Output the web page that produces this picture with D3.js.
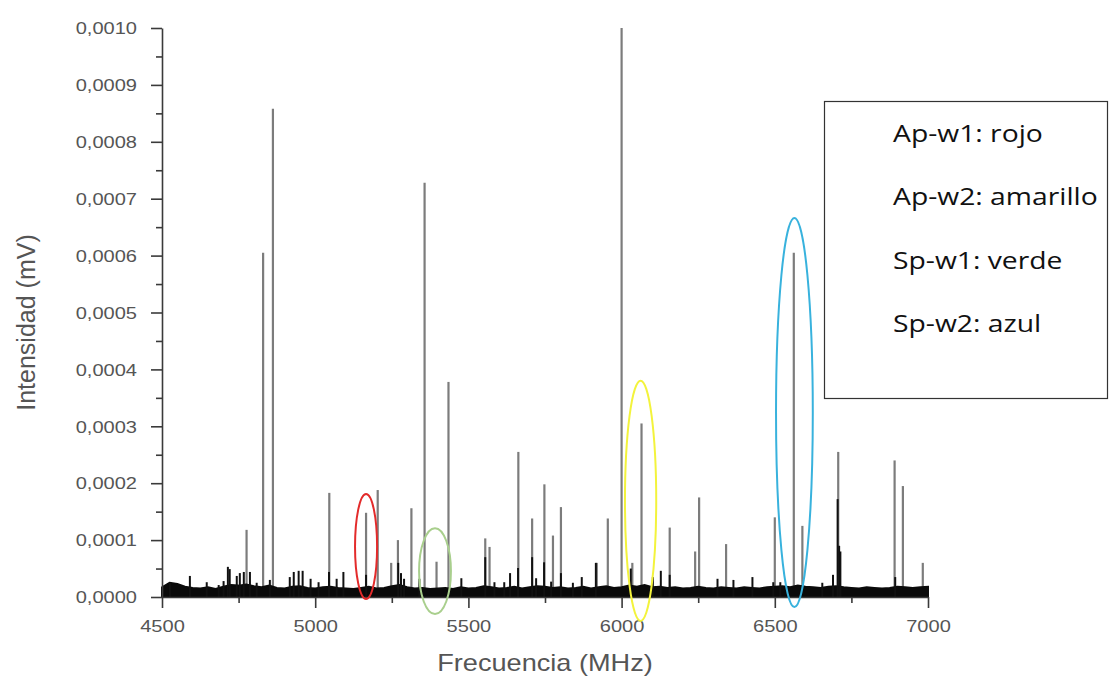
<!DOCTYPE html>
<html>
<head>
<meta charset="utf-8">
<script src="https://cdn.jsdelivr.net/npm/d3@7"></script>
<style>
  body { margin: 0; background: #fff; }
  svg { display: block; }
</style>
</head>
<body>
<svg id="chart" width="1109" height="682"></svg>
<script>
// Strong emission lines (frequency in MHz, intensity in mV)
const peakFreqs = [4776, 4830, 4862, 5046, 5166, 5204, 5248, 5270, 5314, 5357,
                   5396, 5435, 5555, 5569, 5663, 5708, 5748, 5776, 5802, 5919,
                   5955, 6000, 6035, 6065, 6157, 6240, 6253, 6341, 6500, 6562,
                   6590, 6707, 6891, 6918, 6983];
const peakValues = [0.000118, 0.000605, 0.000858, 0.000183, 0.000148, 0.000188, 0.000060, 0.000100, 0.000156, 0.000728,
                    0.000062, 0.000378, 0.000103, 0.000088, 0.000255, 0.000138, 0.000198, 0.000108, 0.000158, 0.000060,
                    0.000138, 0.001000, 0.000060, 0.000305, 0.000122, 0.000080, 0.000175, 0.000093, 0.000140, 0.000605,
                    0.000125, 0.000255, 0.000240, 0.000195, 0.000060];

// Small spikes riding on the noise floor
const spikeFreqs = [4526, 4591, 4646, 4685, 4701, 4715, 4721, 4744, 4754, 4767,
                    4787, 4809, 4852, 4917, 4930, 4946, 4959, 4985, 5011, 5045,
                    5070, 5092, 5166, 5271, 5280, 5290, 5340, 5477, 5555, 5585,
                    5617, 5636, 5662, 5708, 5721, 5747, 5770, 5802, 5841, 5870,
                    5916, 6030, 6102, 6128, 6157, 6313, 6365, 6427, 6495, 6518,
                    6655, 6690, 6705, 6710, 6714, 6893];
const spikeValues = [0.000025, 0.000037, 0.000026, 0.000021, 0.000028, 0.000053, 0.000049, 0.000037, 0.000042, 0.000044,
                     0.000044, 0.000025, 0.000030, 0.000035, 0.000044, 0.000046, 0.000046, 0.000032, 0.000026, 0.000044,
                     0.000032, 0.000044, 0.000039, 0.000060, 0.000042, 0.000032, 0.000032, 0.000033, 0.000070, 0.000026,
                     0.000026, 0.000042, 0.000051, 0.000070, 0.000033, 0.000061, 0.000027, 0.000042, 0.000025, 0.000035,
                     0.000060, 0.000050, 0.000035, 0.000046, 0.000039, 0.000032, 0.000030, 0.000035, 0.000026, 0.000026,
                     0.000025, 0.000039, 0.000172, 0.000090, 0.000080, 0.000035];

// Noise floor level sampled every 25 MHz from 4500 to 7000 MHz
const floorStep = 25;
const floorValues = [0.000017, 0.000025, 0.000023, 0.000018, 0.000016, 0.000015, 0.000017, 0.000014, 0.000018, 0.000021,
                     0.000020, 0.000022, 0.000019, 0.000017, 0.000020, 0.000016, 0.000015, 0.000018, 0.000019, 0.000016,
                     0.000015, 0.000017, 0.000018, 0.000016, 0.000015, 0.000014, 0.000016, 0.000018, 0.000015, 0.000016,
                     0.000019, 0.000021, 0.000017, 0.000015, 0.000016, 0.000014, 0.000015, 0.000016, 0.000014, 0.000017,
                     0.000015, 0.000016, 0.000019, 0.000017, 0.000015, 0.000016, 0.000018, 0.000015, 0.000017, 0.000019,
                     0.000018, 0.000016, 0.000017, 0.000015, 0.000016, 0.000018, 0.000015, 0.000017, 0.000019, 0.000016,
                     0.000017, 0.000020, 0.000018, 0.000021, 0.000017, 0.000018, 0.000016, 0.000017, 0.000015, 0.000016,
                     0.000018, 0.000016, 0.000015, 0.000017, 0.000016, 0.000015, 0.000017, 0.000016, 0.000015, 0.000017,
                     0.000018, 0.000019, 0.000017, 0.000020, 0.000018, 0.000017, 0.000016, 0.000018, 0.000019, 0.000017,
                     0.000016, 0.000015, 0.000017, 0.000016, 0.000015, 0.000016, 0.000018, 0.000017, 0.000016, 0.000017,
                     0.000018];

// Highlighted lines: centre frequency, vertical extent (mV), half width (MHz)
const markNames = ["Ap-w1", "Sp-w1", "Ap-w2", "Sp-w2"];
const markFreqs = [5166, 5391, 6062, 6564];
const markLow = [-0.0000035, -0.00003, -0.000042, -0.0000176];
const markHigh = [0.000181, 0.000121, 0.00038, 0.000666];
const markHalfWidth = [36, 52, 51, 60];
const markColors = ["#e32b2b", "#a9cf8d", "#f3f33c", "#38b2dd"];

// Axis ticks
const xTickValues = [4500, 5000, 5500, 6000, 6500, 7000];
const xTickLabels = ["4500", "5000", "5500", "6000", "6500", "7000"];
const xMinorTicks = [4750, 5250, 5750, 6250, 6750];
const yTickValues = [0, 0.0001, 0.0002, 0.0003, 0.0004, 0.0005, 0.0006, 0.0007, 0.0008, 0.0009, 0.0010];
const yTickLabels = ["0,0000", "0,0001", "0,0002", "0,0003", "0,0004", "0,0005", "0,0006", "0,0007", "0,0008", "0,0009", "0,0010"];
const yMinorTicks = [0.00005, 0.00015, 0.00025, 0.00035, 0.00045, 0.00055, 0.00065, 0.00075, 0.00085, 0.00095];

const legendLines = ["Ap-w1: rojo", "Ap-w2: amarillo", "Sp-w1: verde", "Sp-w2: azul"];

const xTitle = "Frecuencia (MHz)";
const yTitle = "Intensidad (mV)";

// ---------------------------------------------------------------
const svg = d3.select("#chart");
const stretch = 1.18;              // horizontal text stretch
const tickFont = "'Liberation Sans', Arial, sans-serif";

const x = d3.scaleLinear().domain([4500, 7000]).range([162, 928]);
const y = d3.scaleLinear().domain([0, 0.001]).range([597, 28]);

// Strong lines
const plot = svg.append("g");
plot.selectAll("line.peak")
  .data(d3.zip(peakFreqs, peakValues))
  .join("line")
  .attr("class", "peak")
  .attr("x1", d => x(d[0])).attr("x2", d => x(d[0]))
  .attr("y1", y(0)).attr("y2", d => y(d[1]))
  .attr("stroke", "#7c7c7c")
  .attr("stroke-width", 2.2);

// Noise floor band
const floorData = floorValues.map((v, i) => [4500 + i * floorStep, v]);
plot.append("path")
  .datum(floorData)
  .attr("d", d3.area().x(d => x(d[0])).y0(y(0)).y1(d => y(d[1])))
  .attr("fill", "#0a0a0a")
  .attr("stroke", "#0a0a0a")
  .attr("stroke-width", 2)
  .attr("stroke-linejoin", "miter");

// Small spikes
plot.selectAll("line.spike")
  .data(d3.zip(spikeFreqs, spikeValues))
  .join("line")
  .attr("class", "spike")
  .attr("x1", d => x(d[0])).attr("x2", d => x(d[0]))
  .attr("y1", y(0)).attr("y2", d => y(d[1]))
  .attr("stroke", "#111")
  .attr("stroke-width", 2);

// Axes
const axisColor = "#3a3a3a";
const gx = svg.append("g").attr("transform", `translate(0,${y(0)})`)
  .call(d3.axisBottom(x).tickValues(xTickValues)
        .tickFormat((d, i) => xTickLabels[i]).tickSize(11).tickSizeOuter(0).tickPadding(12));
svg.append("g").attr("transform", `translate(0,${y(0)})`)
  .call(d3.axisBottom(x).tickValues(xMinorTicks).tickFormat("").tickSize(6).tickSizeOuter(0))
  .select(".domain").remove();

const gy = svg.append("g").attr("transform", `translate(${x(4500)},0)`)
  .call(d3.axisLeft(y).tickValues(yTickValues)
        .tickFormat((d, i) => yTickLabels[i]).tickSize(11).tickSizeOuter(0));
svg.append("g").attr("transform", `translate(${x(4500)},0)`)
  .call(d3.axisLeft(y).tickValues(yMinorTicks).tickFormat("").tickSize(6).tickSizeOuter(0))
  .select(".domain").remove();

svg.selectAll(".domain, .tick line")
  .attr("stroke", axisColor).attr("stroke-width", 1.6);

gx.selectAll(".tick text")
  .attr("font-family", tickFont).attr("font-size", 17).attr("fill", "#555")
  .attr("transform", `scale(${stretch},1)`);
gy.selectAll(".tick text")
  .attr("font-family", tickFont).attr("font-size", 17).attr("fill", "#555")
  .attr("x", -25 / stretch)
  .attr("dy", "0.34em")
  .attr("transform", `scale(${stretch},1)`);

// Axis titles
svg.append("text")
  .attr("transform", `translate(${(x(4500) + x(7000)) / 2},671) scale(${stretch},1)`)
  .attr("text-anchor", "middle")
  .attr("font-family", tickFont).attr("font-size", 23).attr("fill", "#555")
  .text(xTitle);
svg.append("text")
  .attr("transform", `translate(35,${(y(0) + y(0.001)) / 2 + 10}) rotate(-90)`)
  .attr("text-anchor", "middle")
  .attr("font-family", tickFont).attr("font-size", 25).attr("fill", "#555")
  .text(yTitle);

// Highlight ellipses
svg.append("g").selectAll("ellipse")
  .data(markFreqs.map((f, i) => i))
  .join("ellipse")
  .attr("cx", i => x(markFreqs[i]))
  .attr("cy", i => (y(markLow[i]) + y(markHigh[i])) / 2)
  .attr("rx", i => x(markFreqs[i] + markHalfWidth[i]) - x(markFreqs[i]))
  .attr("ry", i => (y(markLow[i]) - y(markHigh[i])) / 2)
  .attr("fill", "none")
  .attr("stroke", i => markColors[i])
  .attr("stroke-width", 2);

// Legend box
const legend = svg.append("g");
legend.append("rect")
  .attr("x", 824.5).attr("y", 101.5).attr("width", 283).attr("height", 297)
  .attr("fill", "#fff").attr("stroke", "#333").attr("stroke-width", 1.2);
legend.selectAll("text")
  .data(legendLines)
  .join("text")
  .attr("transform", (d, i) => `translate(893,${142 + i * 63.3}) scale(1.23,1)`)
  .attr("font-family", "'Open Sans', 'Noto Sans', sans-serif")
  .attr("font-size", 23)
  .attr("fill", "#111")
  .text(d => d);
</script>
</body>
</html>
